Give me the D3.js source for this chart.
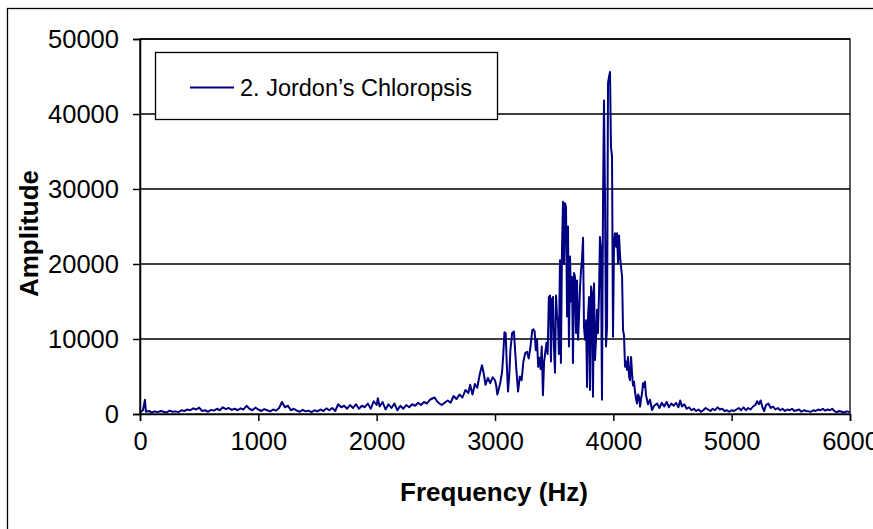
<!DOCTYPE html>
<html>
<head>
<meta charset="utf-8">
<script src="https://cdn.jsdelivr.net/npm/d3@7/dist/d3.min.js"></script>
<style>
  html, body { margin: 0; padding: 0; background: #fff; }
  svg { display: block; }
  text { font-family: "Liberation Sans", Arial, sans-serif; fill: #000; }
</style>
</head>
<body>
<script>
// ---- data ----
const seriesName = "2. Jordon\u2019s Chloropsis";
const xTicks = [0, 1000, 2000, 3000, 4000, 5000, 6000];
const yTicks = [0, 10000, 20000, 30000, 40000, 50000];

const frequency = [
  0,25,42,50,75,100,125,150,175,200,225,250,275,300,325,350,375,400,425,450,
  475,500,525,550,575,600,625,650,675,700,725,750,775,800,825,850,875,900,925,950,
  975,1000,1025,1050,1075,1100,1125,1150,1175,1200,1225,1250,1275,1300,1325,1350,1375,1400,1425,1450,
  1475,1500,1525,1550,1575,1600,1625,1650,1675,1700,1725,1750,1775,1800,1825,1850,1875,1900,1925,1950,
  1975,2000,2010,2025,2050,2075,2100,2125,2150,2175,2200,2225,2250,2275,2300,2325,2350,2375,2400,2425,
  2450,2475,2490,2510,2530,2550,2575,2600,2625,2650,2675,2700,2725,2750,2775,2790,2810,2830,2850,2870,
  2890,2905,2920,2940,2960,2980,3000,3010,3020,3030,3045,3060,3070,3080,3090,3100,3110,3120,3130,3145,
  3160,3170,3180,3195,3210,3225,3240,3255,3270,3285,3300,3315,3325,3335,3345,3355,3365,3375,3385,3395,
  3405,3415,3425,3435,3445,3455,3465,3473,3482,3490,3498,3507,3516,3524,3532,3540,3549,3557,3566,3575,
  3583,3592,3600,3609,3617,3625,3634,3642,3651,3659,3668,3676,3685,3693,3702,3710,3719,3727,3735,3744,
  3752,3761,3770,3778,3786,3795,3803,3812,3820,3828,3837,3845,3854,3862,3870,3879,3887,3895,3904,3913,
  3921,3930,3938,3947,3955,3964,3972,3980,3989,3997,4006,4014,4023,4031,4040,4048,4057,4065,4074,4082,
  4090,4099,4107,4116,4124,4133,4141,4150,4158,4166,4175,4183,4192,4200,4209,4217,4226,4234,4243,4251,
  4260,4268,4276,4285,4293,4310,4327,4345,4369,4390,4410,4430,4450,4470,4490,4510,4530,4550,4565,4580,
  4600,4620,4640,4660,4680,4700,4720,4740,4760,4780,4800,4820,4840,4860,4880,4900,4920,4940,4960,4980,
  5000,5020,5040,5060,5080,5100,5120,5140,5160,5180,5200,5215,5230,5245,5260,5275,5290,5310,5330,5350,
  5370,5390,5410,5430,5450,5470,5490,5510,5530,5550,5570,5590,5610,5630,5650,5670,5690,5710,5730,5750,
  5770,5790,5810,5830,5850,5870,5890,5910,5930,5950,5970,6000
];

const amplitude = [
  200,500,1900,300,400,200,350,250,400,300,200,450,300,350,250,500,400,600,500,750,
  600,850,400,500,300,550,450,700,500,900,650,800,550,700,500,750,600,1100,700,500,
  850,600,400,650,500,350,600,450,800,1600,900,1100,500,700,450,300,550,350,450,250,
  500,350,600,400,750,500,800,400,1300,900,1100,700,1200,800,1300,700,1100,900,1400,700,
  1700,1200,2100,1000,1600,600,1300,800,1400,500,1100,700,1200,900,1300,1100,1500,1200,1600,1400,
  1900,2100,2200,1700,1400,1200,1500,1800,1500,2400,2000,2600,2200,3200,2800,3900,2600,4000,3500,5200,
  6500,5400,3900,4800,4100,4900,4500,3800,2600,3200,4200,5600,8000,10900,10800,6500,3000,5000,8500,10800,
  11000,8500,6000,3000,5000,4500,7000,8100,8300,7400,9000,11200,11300,11000,8500,10000,6300,7500,6000,9000,
  2500,7000,8200,9500,8000,15600,15800,7000,15300,15600,9000,5500,15800,13000,12500,8000,20500,6800,21900,28300,
  20000,28100,27600,13000,25000,9000,21000,15000,18300,6800,18800,18300,10800,17800,9900,13000,17000,19200,20500,23500,
  11600,9900,12500,3600,13000,15600,3200,17000,16100,2300,17400,7200,10000,13900,10800,16000,23600,22000,1900,28500,
  41800,28100,9000,11600,44100,45000,45600,35600,34300,10300,22800,24100,22300,24100,20100,23800,21000,19600,18300,11200,
  10500,6300,7000,5900,7600,5000,4500,7600,5500,3800,4300,3000,2000,1400,2600,2300,970,2000,2800,4100,
  3600,4300,2500,1870,1300,1900,530,1100,1400,800,1500,1000,1600,900,1400,1100,1500,900,1800,1000,
  1300,700,900,500,700,400,600,300,500,800,600,400,700,500,900,600,700,400,500,300,
  500,400,600,800,500,900,500,800,600,1000,1200,1700,1300,1800,900,400,1200,1400,800,1000,
  600,800,500,700,400,600,500,700,400,500,600,300,500,400,350,300,500,400,600,500,
  700,450,600,500,700,350,250,400,300,200,350,250
];

// ---- layout ----
const W = 873, H = 529;
const plot = { left: 140, right: 850, top: 39, bottom: 414 };

const svg = d3.select("body").append("svg")
  .attr("width", W).attr("height", H);

// outer chart frame (extends past the window on the right and bottom)
svg.append("rect")
  .attr("x", 7.5).attr("y", 8.5)
  .attr("width", W + 20).attr("height", H + 20)
  .attr("fill", "#fff").attr("stroke", "#000").attr("stroke-width", 1.3);

const x = d3.scaleLinear().domain([0, 6000]).range([plot.left, plot.right]);
const y = d3.scaleLinear().domain([0, 50000]).range([plot.bottom, plot.top]);

// gridlines
svg.append("g")
  .selectAll("line").data(yTicks.filter(d => d > 0)).join("line")
  .attr("x1", plot.left).attr("x2", plot.right)
  .attr("y1", d => y(d)).attr("y2", d => y(d))
  .attr("stroke", "#000").attr("stroke-width", 1.3);

// plot area border
svg.append("rect")
  .attr("x", plot.left).attr("y", plot.top)
  .attr("width", plot.right - plot.left).attr("height", plot.bottom - plot.top)
  .attr("fill", "none").attr("stroke", "#000").attr("stroke-width", 1.3);

// series line
const pts = frequency.map((f, i) => [f, amplitude[i]]);
svg.append("path")
  .datum(pts)
  .attr("fill", "none")
  .attr("stroke", "#000080")
  .attr("stroke-width", 2)
  .attr("stroke-linejoin", "round")
  .attr("d", d3.line().x(d => x(d[0])).y(d => y(d[1])));

// axes
const xAxis = svg.append("g")
  .attr("transform", `translate(0,${plot.bottom})`)
  .call(d3.axisBottom(x).tickValues(xTicks).tickSize(7).tickPadding(11).tickFormat(d3.format("d")));
const yAxis = svg.append("g")
  .attr("transform", `translate(${plot.left},0)`)
  .call(d3.axisLeft(y).tickValues(yTicks).tickSize(7).tickPadding(14).tickFormat(d3.format("d")));

[xAxis, yAxis].forEach(a => {
  a.select(".domain").attr("stroke", "#000").attr("stroke-width", 1.5);
  a.selectAll(".tick line").attr("stroke", "#000").attr("stroke-width", 1.5);
  a.selectAll(".tick text")
    .attr("font-family", "Liberation Sans, Arial, sans-serif")
    .attr("font-size", 25.5).attr("fill", "#000");
});

// axis titles
svg.append("text")
  .attr("x", (plot.left + plot.right) / 2 - 1).attr("y", 501)
  .attr("text-anchor", "middle")
  .attr("font-size", 26).attr("font-weight", "bold")
  .text("Frequency (Hz)");

svg.append("text")
  .attr("transform", "translate(38,233.5) rotate(-90)")
  .attr("text-anchor", "middle")
  .attr("font-size", 26).attr("font-weight", "bold")
  .text("Amplitude");

// legend
const lg = svg.append("g");
lg.append("rect")
  .attr("x", 155.5).attr("y", 52.5).attr("width", 342).attr("height", 67)
  .attr("fill", "#fff").attr("stroke", "#000").attr("stroke-width", 1.3);
lg.append("line")
  .attr("x1", 190).attr("x2", 234).attr("y1", 87.5).attr("y2", 87.5)
  .attr("stroke", "#000080").attr("stroke-width", 2);
lg.append("text")
  .attr("x", 240).attr("y", 95.5)
  .attr("font-size", 23.5)
  .text(seriesName);
</script>
</body>
</html>
